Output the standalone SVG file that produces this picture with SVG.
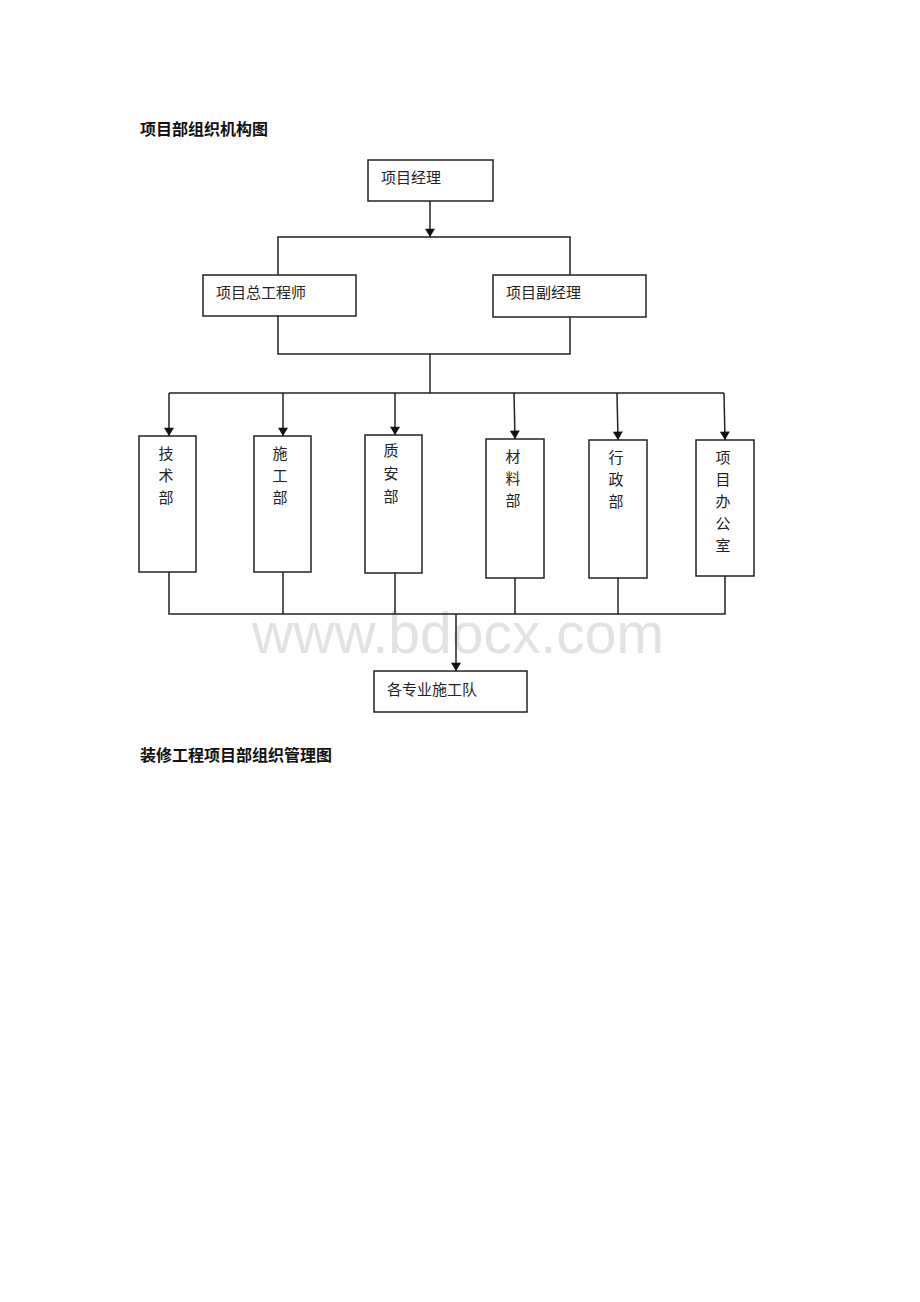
<svg xmlns="http://www.w3.org/2000/svg" width="920" height="1302" viewBox="0 0 920 1302">
<style>
.box{fill:#fff;stroke:#222;stroke-width:1.5}
.t{font-family:"Liberation Sans","Noto Sans CJK SC",sans-serif;font-size:15px;fill:#222}
.h{font-family:"Liberation Sans","Noto Sans CJK SC",sans-serif;font-size:16px;font-weight:bold;fill:#111}
.c{fill:none;stroke:#222;stroke-width:1.5}
.wm{font-family:"Liberation Sans",sans-serif;font-size:57px;fill:#e2e2e2}
</style>
<defs>
<marker id="arr" viewBox="0 0 10 12" refX="10" refY="6" markerWidth="11" markerHeight="10" markerUnits="userSpaceOnUse" orient="auto">
<path d="M0,0 L10,6 L0,12 Z" fill="#111"/>
</marker>
</defs>
<rect width="920" height="1302" fill="#fff"/>
<text class="h" x="140" y="135">项目部组织机构图</text>
<text class="h" x="140" y="761">装修工程项目部组织管理图</text>
<text class="wm" x="458" y="653" text-anchor="middle">www.bdocx.com</text>
<g id="connectors">
<path class="c" d="M430,201 V237" marker-end="url(#arr)"/>
<path class="c" d="M278,275 V237 H570 V275"/>
<path class="c" d="M278,316 V354 H570 V317"/>
<path class="c" d="M430,354 V393"/>
<path class="c" d="M169,393 H724"/>
<path class="c" d="M169,393 V436" marker-end="url(#arr)"/>
<path class="c" d="M283,393 V436" marker-end="url(#arr)"/>
<path class="c" d="M395,393 V435" marker-end="url(#arr)"/>
<path class="c" d="M514,393 L515,439" marker-end="url(#arr)"/>
<path class="c" d="M617,393 L618,440" marker-end="url(#arr)"/>
<path class="c" d="M724,393 L725,440" marker-end="url(#arr)"/>
<path class="c" d="M169,572 V614 H725 V576"/>
<path class="c" d="M283,572 V614"/>
<path class="c" d="M395,573 V614"/>
<path class="c" d="M515,578 V614"/>
<path class="c" d="M618,578 V614"/>
<path class="c" d="M456,614 V671" marker-end="url(#arr)"/>
</g>
<g id="pm"><rect class="box" x="368" y="160" width="125" height="41"/><text class="t" x="381" y="183">项目经理</text></g>
<g id="chief"><rect class="box" x="203" y="275" width="153" height="41"/><text class="t" x="216" y="298">项目总工程师</text></g>
<g id="deputy"><rect class="box" x="493" y="275" width="153" height="42"/><text class="t" x="506" y="298">项目副经理</text></g>
<g id="tech"><rect class="box" x="139" y="436" width="57" height="136"/><text class="t" text-anchor="middle"><tspan x="166" y="459">技</tspan><tspan x="166" y="481">术</tspan><tspan x="166" y="503">部</tspan></text></g>
<g id="cons"><rect class="box" x="254" y="436" width="57" height="136"/><text class="t" text-anchor="middle"><tspan x="280" y="459">施</tspan><tspan x="280" y="481">工</tspan><tspan x="280" y="503">部</tspan></text></g>
<g id="qs"><rect class="box" x="365" y="435" width="57" height="138"/><text class="t" text-anchor="middle"><tspan x="391" y="456">质</tspan><tspan x="391" y="479">安</tspan><tspan x="391" y="502">部</tspan></text></g>
<g id="mat"><rect class="box" x="486" y="439" width="58" height="139"/><text class="t" text-anchor="middle"><tspan x="513" y="462">材</tspan><tspan x="513" y="484">料</tspan><tspan x="513" y="506">部</tspan></text></g>
<g id="admin"><rect class="box" x="589" y="440" width="58" height="138"/><text class="t" text-anchor="middle"><tspan x="616" y="463">行</tspan><tspan x="616" y="485">政</tspan><tspan x="616" y="507">部</tspan></text></g>
<g id="office"><rect class="box" x="696" y="440" width="58" height="136"/><text class="t" text-anchor="middle"><tspan x="723" y="463">项</tspan><tspan x="723" y="485">目</tspan><tspan x="723" y="507">办</tspan><tspan x="723" y="529">公</tspan><tspan x="723" y="551">室</tspan></text></g>
<g id="teams"><rect class="box" x="374" y="671" width="153" height="41"/><text class="t" x="387" y="695">各专业施工队</text></g>
</svg>
